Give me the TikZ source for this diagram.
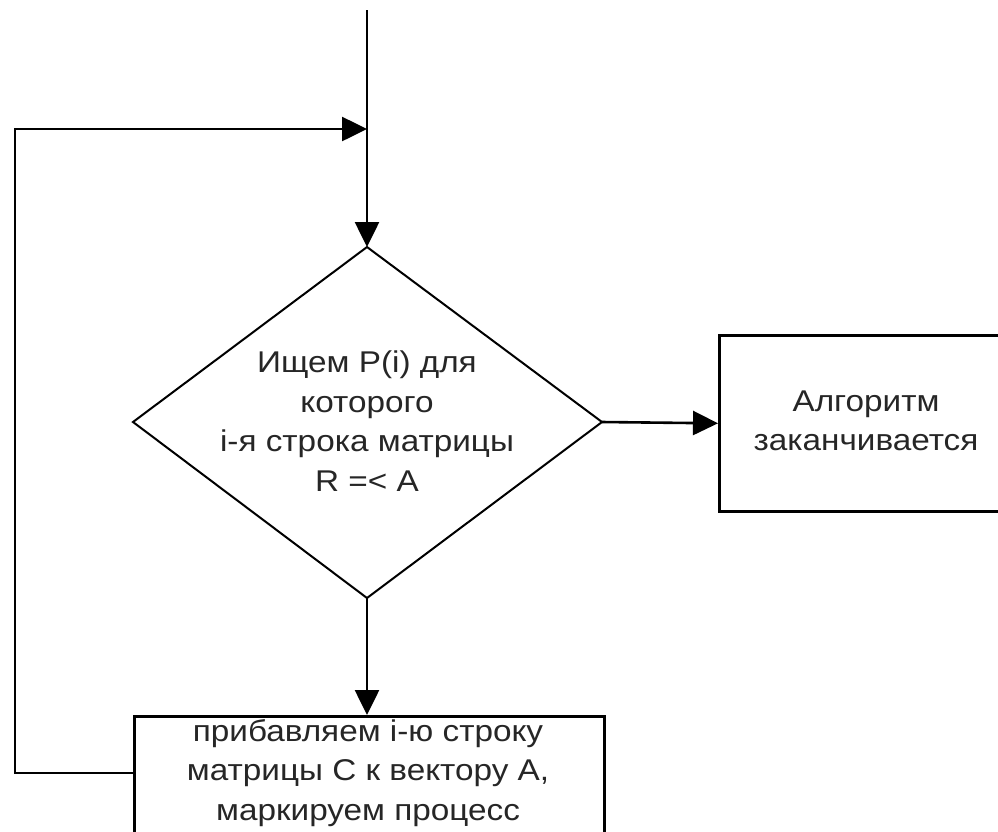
\documentclass[tikz,border=0pt]{standalone}
\usepackage{fontspec}
\setmainfont{Liberation Sans}[FakeStretch=1.11]
\usetikzlibrary{arrows.meta}
\begin{document}
\begin{tikzpicture}[x=1pt,y=-1pt,line width=2.6pt,
  >={Triangle[length=25pt,width=24pt]},
  txt/.style={align=center,font=\fontsize{30}{39.5}\selectfont,text=black!85,inner sep=0pt},
  conn/.style={draw=black,line width=2.6pt}]
\useasboundingbox (0,0) rectangle (998,831);
\clip (0,0) rectangle (998,831);
% diamond vertices
\coordinate (dT) at (367,247);
\coordinate (dL) at (133,422);
\coordinate (dR) at (602,422);
\coordinate (dB) at (367,598);
\draw[line width=2pt] (dT) -- (dR) -- (dB) -- (dL) -- cycle;
\node[txt] (dtext) at (367,421) {Ищем P(i) для\\которого\\i-я строка матрицы\\R =< A};
% end box
\node[draw,line width=2.6pt,minimum width=296pt,minimum height=176pt,anchor=north west,inner sep=0pt] (endbox) at (718,334) {};
\node[txt] (endtext) at (866,421) {Алгоритм\\заканчивается};
% bottom box
\node[draw,line width=2.6pt,minimum width=470pt,minimum height=120pt,anchor=north west,inner sep=0pt] (addbox) at (133,715) {};
\node[txt] (addtext) at (368,773) {прибавляем i-ю строку\\матрицы C к вектору A,\\маркируем процесс};
% connectors
\coordinate (top) at (367,10);
\coordinate (merge) at (367,129);
\coordinate (c1) at (15,773);
\coordinate (c2) at (15,129);
\draw[conn] (top) -- (merge);
\draw[conn,->] (merge) -- (dT);
\draw[conn,->] (dR) -- (endbox.west);
\draw[conn,->] (dB) -- (dB |- addbox.north);
\draw[conn,->] (addbox.west |- c1) -- (c1) -- (c2) -- (merge);
\end{tikzpicture}
\end{document}
